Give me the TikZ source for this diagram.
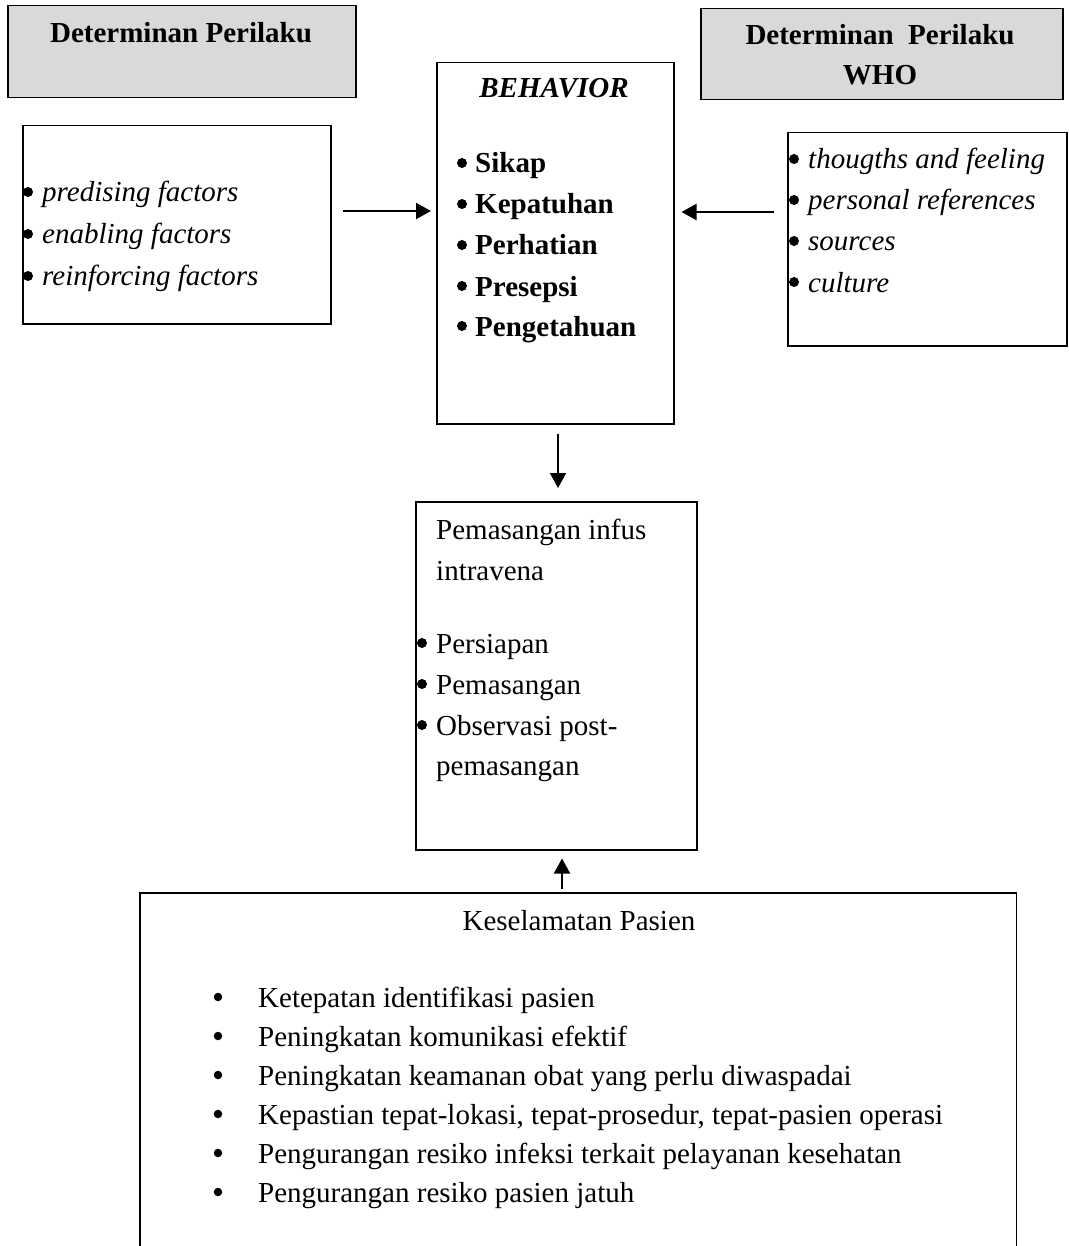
\documentclass[tikz,border=0pt]{standalone}
\usepackage{fontspec}
\setmainfont{Liberation Serif}
\usetikzlibrary{arrows.meta}
\definecolor{boxgray}{HTML}{D9D9D9}
\begin{document}
\begin{tikzpicture}[x=1pt,y=-1pt,
  box/.style={draw=black,line width=1.5pt,inner sep=0pt,anchor=north west},
  graybox/.style={box,fill=boxgray},
  txt/.style={anchor=base west,inner sep=0pt,font=\fontsize{29}{41}\selectfont},
  ctxt/.style={anchor=base,inner sep=0pt,font=\fontsize{29}{41}\selectfont},
  dot/.style={circle,fill=black,inner sep=0pt,minimum size=10pt},
  arr/.style={line width=2pt,-{Triangle[length=15pt,width=16pt]}}]
\useasboundingbox (0,0) rectangle (1068,1246);
% boxes
\node[graybox,minimum width=348pt,minimum height=92pt] (g1) at (7,5) {};
\node[graybox,minimum width=362pt,minimum height=91pt] (g2) at (700,8) {};
\node[box,minimum width=308pt,minimum height=198pt] (lf) at (22,125) {};
\node[box,minimum width=237pt,minimum height=361pt] (beh) at (436,62) {};
\node[box,minimum width=279pt,minimum height=213pt] (rt) at (787,132) {};
\node[box,minimum width=281pt,minimum height=348pt] (mid) at (415,501) {};
\node[inner sep=0pt,anchor=north west,minimum width=876pt,minimum height=353pt] (ks) at (140,893) {};
\draw[line width=1.5pt] (ks.south west) -- (ks.north west) -- (ks.north east) -- (ks.south east);
% gray titles
\node[ctxt,font=\fontsize{29}{41}\selectfont\bfseries] (t1) at (181,43) {Determinan Perilaku};
\node[ctxt,font=\fontsize{29}{41}\selectfont\bfseries] (t2a) at (880,45) {Determinan\ \ Perilaku};
\node[ctxt,font=\fontsize{29}{41}\selectfont\bfseries] (t2b) at (880,85) {WHO};
% left list
\foreach \y/\t [count=\i] in {202/predising factors,244/enabling factors,286/reinforcing factors}{
  \node[dot] (lb\i) at (28,\y-10) {};
  \node[txt] (lt\i) at (42,\y) {\textit{\t}};
}
% behavior
\node[ctxt,font=\fontsize{29}{41}\selectfont\bfseries\itshape] (bt) at (554,98) {BEHAVIOR};
\foreach \y/\t [count=\i] in {173/Sikap,214/Kepatuhan,255/Perhatian,296/Presepsi,336/Pengetahuan}{
  \node[dot] (bb\i) at (462,\y-10) {};
  \node[txt] (bx\i) at (475,\y) {\textbf{\t}};
}
% right list
\foreach \y/\t [count=\i] in {169/thougths and feeling,210/personal references,251/sources,292/culture}{
  \node[dot] (rb\i) at (794,\y-10) {};
  \node[txt] (rx\i) at (808,\y) {\textit{\t}};
}
% middle
\node[txt] (m1) at (436,539) {Pemasangan infus};
\node[txt] (m2) at (436,580) {intravena};
\foreach \y/\t [count=\i] in {653/Persiapan,694/Pemasangan,735/Observasi post-}{
  \node[dot] (mb\i) at (422,\y-10) {};
  \node[txt] (mx\i) at (436,\y) {\t};
}
\node[txt] (m6) at (436,775) {pemasangan};
% bottom
\node[ctxt] (kt) at (579,930) {Keselamatan Pasien};
\foreach \y/\t [count=\i] in {1007/Ketepatan identifikasi pasien,1046/Peningkatan komunikasi efektif,1085/Peningkatan keamanan obat yang perlu diwaspadai,1124/{Kepastian tepat-lokasi, tepat-prosedur, tepat-pasien operasi},1163/Pengurangan resiko infeksi terkait pelayanan kesehatan,1202/Pengurangan resiko pasien jatuh}{
  \node[dot,minimum size=8.5pt] (kb\i) at (218,\y-10) {};
  \node[txt] (kx\i) at (258,\y) {\t};
}
% arrows
\draw[arr,shorten <=11pt,shorten >=5pt] (lf.east |- 0,211) -- (beh.west |- 0,211);
\draw[arr,shorten <=13pt,shorten >=7pt] (rt.west |- 0,212) -- (beh.east |- 0,212);
\draw[arr,shorten <=9pt,shorten >=13pt] (beh.south -| 558,0) -- (mid.north -| 558,0);
\draw[arr,shorten <=4pt,shorten >=8pt] (ks.north -| 562,0) -- (mid.south -| 562,0);
\end{tikzpicture}
\end{document}
